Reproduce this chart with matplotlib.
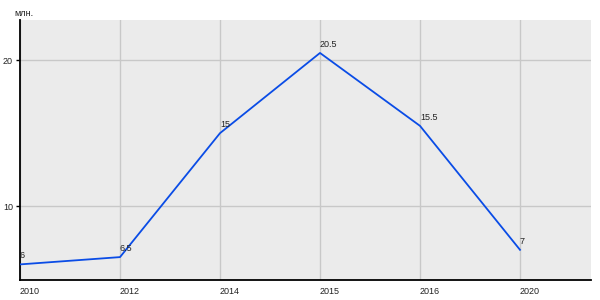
import matplotlib.pyplot as plt

plt.rcParams['font.family'] = ['Liberation Sans', 'DejaVu Sans']

years = ['2010', '2012', '2014', '2015', '2016', '2020']
values = [6, 6.5, 15, 20.5, 15.5, 7]
labels = ['6', '6.5', '15', '20.5', '15.5', '7']
yticks = [10, 20]

fig = plt.figure(figsize=(6, 3), dpi=100)
ax = fig.add_axes([20/600, 20/300, 571/600, 260/300])
ax.set_facecolor('#ebebeb')

x = list(range(len(years)))
ax.plot(x, values, color='#0a4ce6', lw=1.3, zorder=3)
for i, v in enumerate(values):
    ax.annotate(labels[i], (i, v), xytext=(0, 3), textcoords='offset points',
                fontsize=6.5, ha='left', va='bottom', color='#222222')

ax.set_xlim(0, 5.71)
ax.set_ylim(4.93, 22.76)
ax.set_xticks(x)
ax.set_xticklabels(years, ha='left')
ax.set_yticks(yticks)
ax.grid(True, color='#c8c8c8', lw=1, zorder=0)
ax.set_axisbelow(True)

for s in ['top', 'right']:
    ax.spines[s].set_visible(False)
for s in ['left', 'bottom']:
    ax.spines[s].set_linewidth(1.3)
    ax.spines[s].set_color('black')

ax.tick_params(axis='x', length=0, pad=5, labelsize=6.5, colors='#222222')
ax.tick_params(axis='y', length=3, width=1, pad=2, labelsize=6.5, colors='black', labelcolor='#222222')

fig.text(14/600, 1 - 13/300, 'млн.', fontsize=6.5, va='center', ha='left', color='#222222')

fig.savefig('out.png', dpi=100)
